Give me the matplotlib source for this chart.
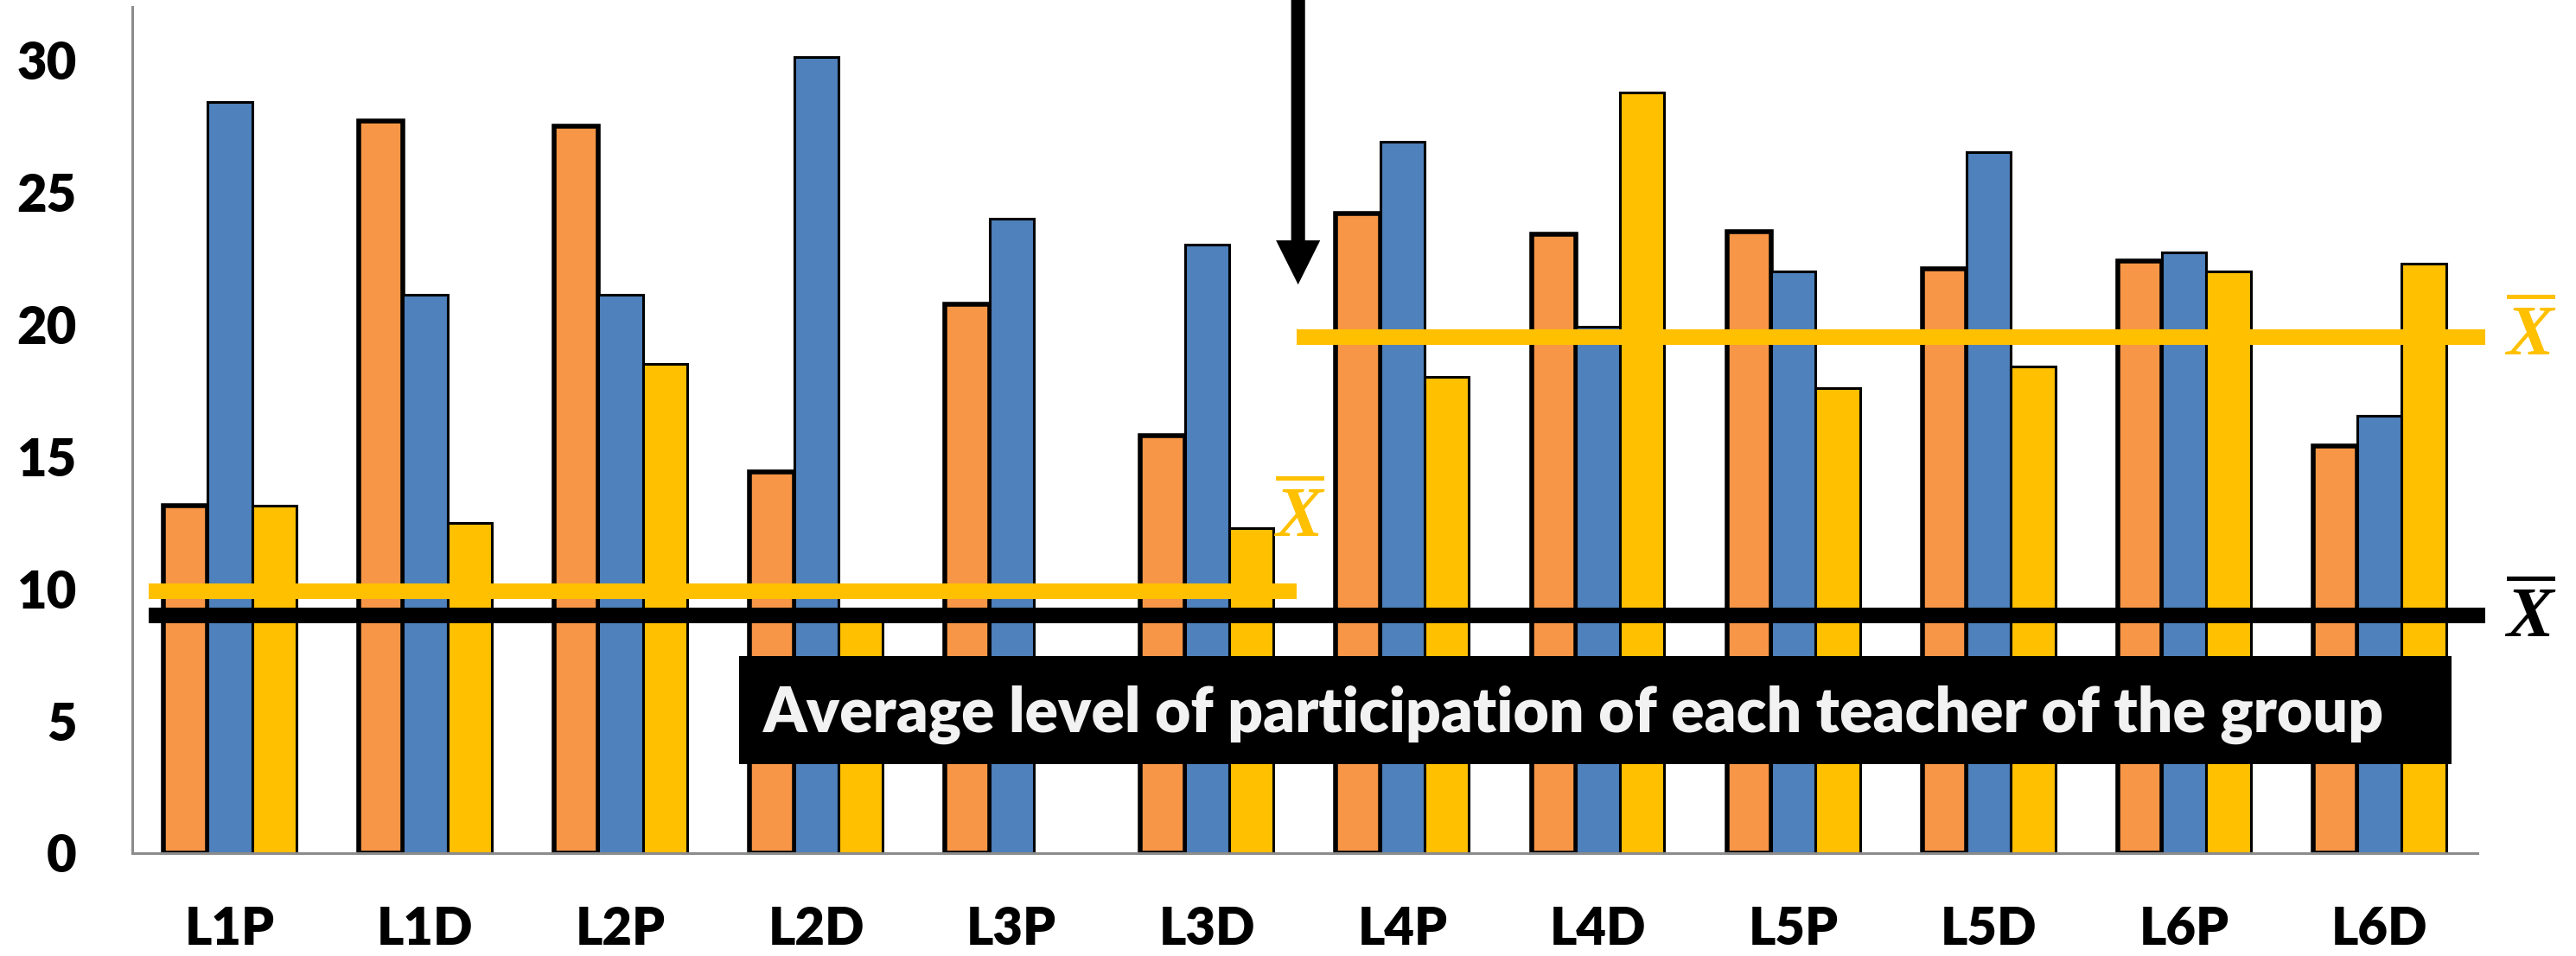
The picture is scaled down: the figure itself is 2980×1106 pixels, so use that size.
import matplotlib
matplotlib.use('Agg')
import matplotlib.pyplot as plt
import numpy as np
from matplotlib.patches import Rectangle

# ---- data ----
categories = ['L1P', 'L1D', 'L2P', 'L2D', 'L3P', 'L3D',
              'L4P', 'L4D', 'L5P', 'L5D', 'L6P', 'L6D']
orange_vals = [13.15, 27.7, 27.5, 14.4, 20.75, 15.8, 24.2, 23.4, 23.5, 22.1, 22.4, 15.4]
blue_vals = [28.4, 21.1, 21.1, 30.1, 24.0, 23.0, 26.9, 19.9, 22.0, 26.5, 22.7, 16.55]
yellow_vals = [13.15, 12.5, 18.5, 8.8, 0.0, 12.3, 18.0, 28.75, 17.6, 18.4, 22.0, 22.3]
group_mean = 9.0
yellow_mean_first = 9.9
yellow_mean_second = 19.5
yticks = [0, 5, 10, 15, 20, 25, 30]
box_text = 'Average level of participation of each teacher of the group'
mean_label = r'$\overline{X}$'

# ---- style ----
plt.rcParams['font.family'] = ['Lato', 'DejaVu Sans']
plt.rcParams['mathtext.fontset'] = 'custom'
plt.rcParams['mathtext.it'] = 'Liberation Serif:italic:bold'
plt.rcParams['mathtext.rm'] = 'Liberation Serif:bold'

C_OR = '#F79646'
C_BL = '#4F81BD'
C_YE = '#FFC000'

fig = plt.figure(figsize=(14.9, 5.53), dpi=200)
ax = fig.add_axes([0.0513, 0.1076, 0.9104, 0.8852])

x = np.arange(len(categories))
w = 0.227
ax.bar(x - w, orange_vals, w, color=C_OR, edgecolor='black', linewidth=2.0, zorder=2)
ax.bar(x, blue_vals, w, color=C_BL, edgecolor='black', linewidth=1.1, zorder=2)
ax.bar(x + w, yellow_vals, w, color=C_YE, edgecolor='black', linewidth=1.1, zorder=2)

ax.set_xlim(-0.5, len(categories) - 0.5)
ax.set_ylim(0, 32)
ax.set_yticks(yticks)
ax.set_yticklabels([str(t) for t in yticks])
ax.set_xticks(x)
ax.set_xticklabels(categories)
ax.tick_params(axis='both', length=0, labelsize=21.5)
ax.tick_params(axis='y', pad=23)
ax.tick_params(axis='x', pad=22)
for lab in ax.get_xticklabels() + ax.get_yticklabels():
    lab.set_fontweight('heavy')

for s in ['top', 'right']:
    ax.spines[s].set_visible(False)
for s in ['left', 'bottom']:
    ax.spines[s].set_color('#8c8c8c')
    ax.spines[s].set_linewidth(1.1)

# mean lines
lw = 6.5
ax.plot([-0.416, 11.54], [group_mean, group_mean], color='black', lw=lw,
        solid_capstyle='butt', clip_on=False, zorder=5)
ax.plot([-0.416, 5.46], [yellow_mean_first, yellow_mean_first], color=C_YE, lw=lw,
        solid_capstyle='butt', clip_on=False, zorder=5)
ax.plot([5.46, 11.54], [yellow_mean_second, yellow_mean_second], color=C_YE, lw=lw,
        solid_capstyle='butt', clip_on=False, zorder=5)

# mean labels
ax.text(5.475, 12.8, mean_label, color=C_YE, fontsize=29.5, ha='center', va='center',
        clip_on=False, zorder=6)
ax.text(11.77, 19.67, mean_label, color=C_YE, fontsize=29.5, ha='center', va='center',
        clip_on=False, zorder=6)
ax.text(11.77, 9.02, mean_label, color='black', fontsize=29.5, ha='center', va='center',
        clip_on=False, zorder=6)

# arrow
ax.annotate('', xy=(5.466, 21.5), xytext=(5.466, 32.6),
            arrowprops=dict(facecolor='black', edgecolor='none', width=5.8,
                            headwidth=18.4, headlength=18.4, shrink=0),
            annotation_clip=False, zorder=6)

# text box
ax.add_patch(Rectangle((2.605, 3.37), 11.37 - 2.605, 7.45 - 3.37, facecolor='black',
                       edgecolor='none', zorder=6, clip_on=False))
ax.text(6.877, 4.6, box_text, color='#F2F2F2', fontsize=25.7, fontweight='heavy',
        ha='center', va='baseline', zorder=7)

fig.savefig('out.png', dpi=200)
